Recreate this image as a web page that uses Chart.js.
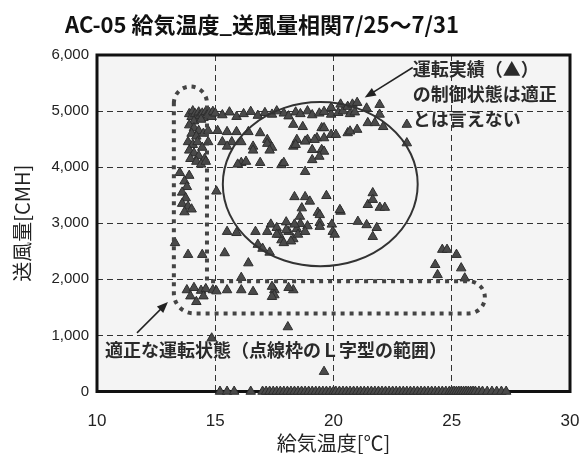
<!DOCTYPE html>
<html>
<head>
<meta charset="utf-8">
<script src="https://cdn.jsdelivr.net/npm/chart.js@4"></script>
<style>
  body { margin: 0; background: #fff; }
</style>
</head>
<body>
<canvas id="chart" width="584" height="457"></canvas>
<script>
const chartTitle = "AC-05 給気温度_送風量相関7/25～7/31";
const xTitle = "給気温度[℃]";
const yTitle = "送風量[CMH]";
const xTickLabels = ["10", "15", "20", "25", "30"];
const yTickLabels = ["0", "1,000", "2,000", "3,000", "4,000", "5,000", "6,000"];

// 給気温度 / 送風量, grouped by where they sit on the plot
const tempTopLeft = [13.9, 14.0, 14.05, 14.15, 14.2, 14.3, 14.35, 14.45, 14.5, 14.6, 14.65, 14.75, 14.85, 14.9, 14.1, 14.4];
const flowTopLeft = [4950, 4900, 5000, 4950, 4870, 4980, 4920, 4960, 4880, 4990, 4930, 4970, 4900, 4990, 4820, 4850];

const tempColumn = [13.9, 14.1, 14.3, 14.0, 14.2, 14.5, 13.85, 14.05, 14.25, 14.45, 13.9, 14.1, 14.3, 14.55, 13.95, 14.2, 14.4, 14.6,
  13.5, 13.9, 13.7, 13.8, 13.6, 13.75, 13.6, 13.85, 13.7, 14.0, 15.05];
const flowColumn = [4750, 4700, 4650, 4600, 4550, 4600, 4450, 4400, 4450, 4350, 4300, 4250, 4200, 4150, 4150, 4100, 4050, 4100,
  3900, 3850, 3750, 3650, 3550, 3450, 3350, 3300, 3200, 3250, 3570];

const tempTopRow = [15.0, 15.3, 15.6, 15.9, 16.2, 16.5, 16.8, 17.1, 17.4, 17.6, 17.9, 18.1, 18.4, 18.6, 18.9, 19.1, 19.4, 19.6, 19.9, 20.2, 20.4, 20.7, 20.9,
  19.9, 20.3, 20.6, 20.8, 21.0, 21.4, 21.95, 21.95];
const flowTopRow = [4960, 4930, 4980, 4900, 4950, 4990, 4920, 4970, 4940, 5000, 4960, 4910, 4980, 4950, 5000, 4930, 4960, 4990, 4940, 4970, 5000, 4950, 4980,
  5060, 5120, 5080, 5120, 5150, 5050, 5115, 4940];

const tempUpper = [14.7, 15.1, 15.5, 15.9, 16.4, 16.9, 17.2, 14.7, 15.3, 15.7, 16.1, 17.2, 15.5, 16.6, 17.4, 16.6, 17.3, 16.1, 16.9, 15.95, 16.3,
  18.3, 18.7, 19.5, 18.45, 18.9, 19.3, 19.6, 18.3, 19.1, 19.5, 19.9, 19.6, 20.1, 20.6, 21.0, 20.7, 21.45, 21.75, 22.1, 23.1, 23.1,
  18.4, 18.8, 19.2, 19.6, 19.4, 19.1, 17.8, 18.8, 17.9];
const flowUpper = [4650, 4650, 4630, 4630, 4630, 4610, 4490, 4450, 4450, 4450, 4450, 4420, 4370, 4370, 4350, 4300, 4300, 4080, 4080, 4050, 4100,
  4760, 4720, 4700, 4490, 4490, 4520, 4520, 4370, 4310, 4310, 4580, 4700, 4580, 4610, 4670, 4640, 4790, 4790, 4720, 4760, 4430,
  4400, 4460, 4490, 4280, 4190, 4130, 4040, 3920, 4080];

const tempMiddle = [18.35, 18.8, 19.7, 21.66, 21.45, 21.96, 22.17, 21.66, 20.3, 19.0, 19.34, 19.42, 19.93, 19.97, 19.42, 19.42, 20.05, 20.27,
  21.03, 21.4, 21.83, 21.66, 18.66, 18.58];
const flowMiddle = [3470, 3470, 3490, 3540, 3330, 3280, 3280, 3420, 3210, 3390, 3190, 3010, 2980, 2850, 3150, 2940, 2800, 3240,
  3030, 2970, 2920, 2760, 3270, 3120];

const tempCluster = [17.35, 17.6, 17.8, 18.0, 18.1, 18.3, 18.45, 18.6, 18.9, 17.9, 18.2, 18.5, 18.0, 17.7, 18.35, 18.8,
  15.5, 15.9, 16.7, 17.2, 17.6, 16.8, 17.0, 17.3];
const flowCluster = [2980, 2920, 2700, 3020, 2850, 2720, 2900, 2990, 2950, 2650, 2680, 2800, 2880, 2800, 2980, 2850,
  2850, 2830, 2850, 2850, 2800, 2620, 2550, 2480];

const tempLower = [13.3, 13.85, 14.45, 15.4, 16.4, 16.1,
  13.8, 14.1, 14.4, 14.6, 14.9, 15.05, 15.5, 16.1, 16.6, 17.5, 17.5, 18.3, 14.2, 13.95, 14.5, 18.1, 17.4, 17.4,
  24.6, 24.8, 25.2, 24.3, 24.4, 25.4, 25.55,
  18.07, 14.85, 19.6];
const flowLower = [2650, 2440, 2440, 2470, 2290, 2030,
  1810, 1850, 1800, 1830, 1810, 1790, 1810, 1810, 1780, 1810, 1720, 1810, 1600, 1700, 1700, 1850, 1870, 1690,
  2530, 2530, 2440, 2260, 2080, 2200, 2020,
  1150, 950, 354];

const tempStopped = [15.2, 15.5, 15.8, 16.5, 17.0, 17.15, 17.3, 17.45, 17.6, 17.75, 17.9, 18.05, 18.2, 18.35, 18.5, 18.65, 18.8, 18.95,
  19.1, 19.25, 19.4, 19.55, 19.7, 19.85, 20.0, 20.1, 20.25, 20.4, 20.55, 20.7, 20.85, 21.0, 21.15, 21.3, 21.45, 21.6, 21.75, 21.9,
  22.05, 22.2, 22.35, 22.5, 22.65, 22.8, 22.95, 23.1, 23.25, 23.4, 23.55, 23.7, 23.85, 24.0, 24.15, 24.3, 24.45, 24.6, 24.75, 24.9,
  25.0, 25.1, 25.2, 25.3, 25.4, 25.5, 25.6, 25.7, 25.8, 25.9, 26.0, 26.15, 26.3, 26.5, 26.7, 26.9, 27.1, 27.3];

// annotation shapes, in axis units
const ellipseCenter = [19.44, 3696];
const ellipseRadius = [4.12, 1464];
const lLeft = 13.25, lInner = 14.65, lRight = 26.4;
const lTop = 5437, lBandTop = 1964, lBandBottom = 1393;
const arrowOne = [[23.35, 5777], [21.32, 5241]];
const arrowTwo = [[11.69, 1045], [13.0, 1598]];
const noteOne = ["運転実績（▲）", "の制御状態は適正", "とは言えない"];
const noteOneAt = [23.35, [5741, 5295, 4848]];
const noteTwo = "適正な運転状態（点線枠のＬ字型の範囲）";
const noteTwoAt = [10.34, 741];

function pairUp(temps, flows) {
  return temps.map((t, i) => ({ x: t, y: flows[i] }));
}

const points = [].concat(
  pairUp(tempTopLeft, flowTopLeft),
  pairUp(tempColumn, flowColumn),
  pairUp(tempTopRow, flowTopRow),
  pairUp(tempUpper, flowUpper),
  pairUp(tempMiddle, flowMiddle),
  pairUp(tempCluster, flowCluster),
  pairUp(tempLower, flowLower),
  tempStopped.map((t) => ({ x: t, y: 0 }))
);

const cjk = '"Noto Sans CJK JP", sans-serif';

function drawArrow(ctx, x1, y1, x2, y2) {
  const ang = Math.atan2(y2 - y1, x2 - x1);
  ctx.beginPath();
  ctx.moveTo(x1, y1);
  ctx.lineTo(x2 - Math.cos(ang) * 6, y2 - Math.sin(ang) * 6);
  ctx.stroke();
  ctx.beginPath();
  ctx.moveTo(x2, y2);
  ctx.lineTo(x2 - Math.cos(ang - 0.38) * 12, y2 - Math.sin(ang - 0.38) * 12);
  ctx.lineTo(x2 - Math.cos(ang + 0.38) * 12, y2 - Math.sin(ang + 0.38) * 12);
  ctx.closePath();
  ctx.fill();
}

const decorPlugin = {
  id: "decor",
  beforeDraw(chart) {
    const { ctx, chartArea: a } = chart;
    ctx.save();
    ctx.fillStyle = "#f4f4f4";
    ctx.fillRect(a.left, a.top, a.right - a.left, a.bottom - a.top);
    ctx.restore();
  },
  beforeDatasetsDraw(chart) {
    const { ctx, chartArea: a } = chart;
    ctx.save();
    ctx.strokeStyle = "#111";
    ctx.lineWidth = 3;
    ctx.strokeRect(a.left, a.top, a.right - a.left, a.bottom - a.top);
    ctx.restore();
  },
  afterDatasetsDraw(chart) {
    const ctx = chart.ctx;
    const xs = chart.scales.x;
    const ys = chart.scales.y;
    const px = (v) => xs.getPixelForValue(v);
    const py = (v) => ys.getPixelForValue(v);
    ctx.save();

    // ellipse round the off-target points
    const cx = px(ellipseCenter[0]);
    const cy = py(ellipseCenter[1]);
    ctx.strokeStyle = "#333";
    ctx.lineWidth = 2;
    ctx.beginPath();
    ctx.ellipse(cx, cy, px(ellipseCenter[0] + ellipseRadius[0]) - cx, cy - py(ellipseCenter[1] + ellipseRadius[1]), 0, 0, Math.PI * 2);
    ctx.stroke();

    // dotted L-shaped frame
    const L = px(lLeft), I = px(lInner), R = px(lRight);
    const T = py(lTop), BT = py(lBandTop), BB = py(lBandBottom);
    const rTop = (I - L) / 2;
    const rEnd = (BB - BT) / 2;
    ctx.strokeStyle = "#444";
    ctx.lineWidth = 4;
    ctx.setLineDash([4, 5]);
    ctx.beginPath();
    ctx.moveTo(L, T + rTop);
    ctx.arc(L + rTop, T + rTop, rTop, Math.PI, 0);
    ctx.lineTo(I, BT);
    ctx.lineTo(R - rEnd, BT);
    ctx.arc(R - rEnd, BT + rEnd, rEnd, -Math.PI / 2, Math.PI / 2);
    ctx.lineTo(L + 20, BB);
    ctx.arcTo(L, BB, L, BB - 20, 20);
    ctx.closePath();
    ctx.stroke();
    ctx.setLineDash([]);

    // arrows
    ctx.strokeStyle = "#222";
    ctx.fillStyle = "#222";
    ctx.lineWidth = 1.5;
    drawArrow(ctx, px(arrowOne[0][0]), py(arrowOne[0][1]), px(arrowOne[1][0]), py(arrowOne[1][1]));
    drawArrow(ctx, px(arrowTwo[0][0]), py(arrowTwo[0][1]), px(arrowTwo[1][0]), py(arrowTwo[1][1]));

    // notes
    ctx.fillStyle = "#2a2a2a";
    ctx.font = "bold 18px " + cjk;
    ctx.textAlign = "left";
    ctx.textBaseline = "middle";
    noteOne.forEach((line, i) => {
      ctx.fillText(line, px(noteOneAt[0]), py(noteOneAt[1][i]));
    });
    ctx.fillText(noteTwo, px(noteTwoAt[0]), py(noteTwoAt[1]));
    ctx.restore();
  },
  afterDraw(chart) {
    const ctx = chart.ctx;
    ctx.save();
    ctx.fillStyle = "#111";
    ctx.font = "bold 22px " + cjk;
    ctx.textAlign = "center";
    ctx.textBaseline = "middle";
    ctx.fillText(chartTitle, 262, 25);
    ctx.restore();
  },
};

new Chart(document.getElementById("chart").getContext("2d"), {
  type: "scatter",
  data: {
    datasets: [
      {
        label: "運転実績",
        data: points,
        pointStyle: "triangle",
        pointRadius: 5.5,
        backgroundColor: "#4a4a4a",
        borderColor: "#2e2e2e",
        borderWidth: 1,
        clip: false,
      },
    ],
  },
  options: {
    responsive: false,
    animation: false,
    layout: { padding: { top: 55, right: 14, bottom: 0, left: 0 } },
    plugins: {
      legend: { display: false },
      tooltip: { enabled: false },
    },
    scales: {
      x: {
        type: "linear",
        min: 10,
        max: 30,
        afterFit: (scale) => {
          scale.height = 65.5;
          scale.paddingLeft = 0;
          scale.paddingRight = 0;
        },
        ticks: {
          stepSize: 5,
          padding: 20,
          color: "#222",
          font: { family: '"Liberation Sans", sans-serif', size: 17 },
          callback: (value, index) => xTickLabels[index],
        },
        grid: { color: "#333", lineWidth: 1, drawTicks: false },
        border: { display: false, dash: [6, 4] },
        title: {
          display: true,
          text: xTitle,
          color: "#222",
          font: { family: cjk, size: 20 },
          padding: { top: 0, bottom: 2 },
        },
      },
      y: {
        min: 0,
        max: 6000,
        afterFit: (scale) => {
          scale.width = 97;
          scale.paddingTop = 0;
          scale.paddingBottom = 0;
        },
        ticks: {
          stepSize: 1000,
          padding: 8,
          color: "#222",
          font: { family: '"Liberation Sans", sans-serif', size: 15 },
          callback: (value, index) => yTickLabels[index],
        },
        grid: { color: "#333", lineWidth: 1, drawTicks: false },
        border: { display: false, dash: [6, 4] },
        title: {
          display: true,
          text: yTitle,
          color: "#222",
          font: { family: cjk, size: 20 },
          padding: { top: 10, bottom: 0 },
        },
      },
    },
  },
  plugins: [decorPlugin],
});
</script>
</body>
</html>
